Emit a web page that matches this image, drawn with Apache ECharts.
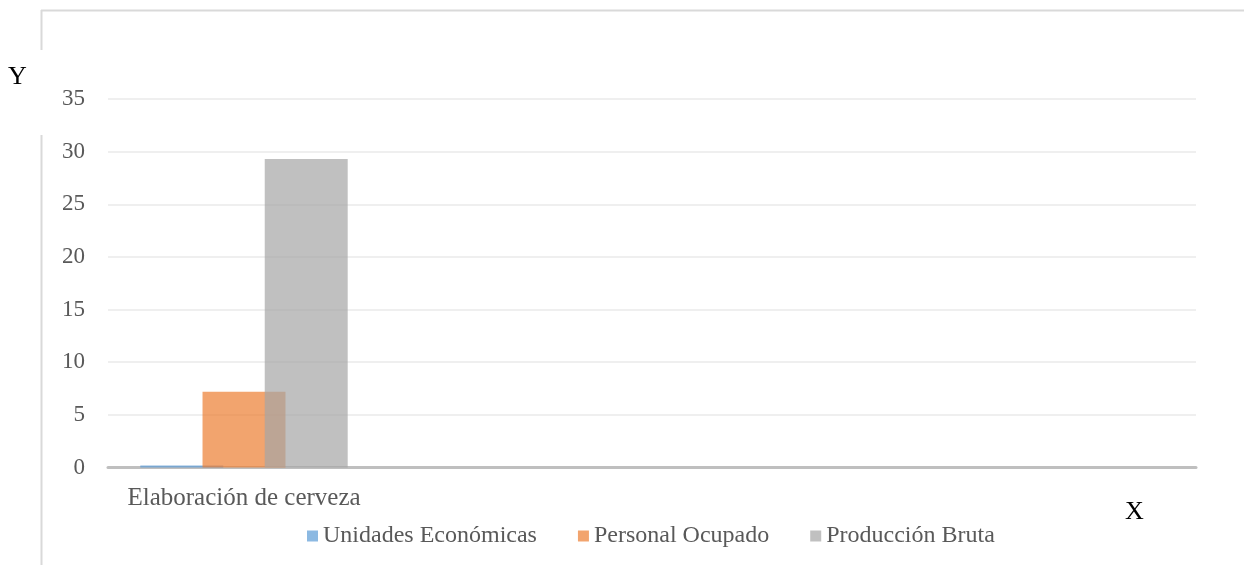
<!DOCTYPE html>
<html>
<head>
<meta charset="utf-8">
<script src="https://cdn.jsdelivr.net/npm/echarts@6/dist/echarts.min.js"></script>
<style>
html,body{margin:0;padding:0;background:#fff;}
#chart{width:1244px;height:565px;}
</style>
</head>
<body>
<div id="chart"></div>
<script>
const categories = ['Elaboración de cerveza', '', '', ''];
const seriesNames = ['Unidades Económicas', 'Personal Ocupado', 'Producción Bruta'];
const unidadesEconomicas = [0.2, null, null, null];
const personalOcupado = [7.2, null, null, null];
const produccionBruta = [29.3, null, null, null];
const yTicks = { min: 0, max: 35, interval: 5 };

const FONT = '"Liberation Serif", "Times New Roman", serif';
const colors = ['#5B9BD5', '#ED7D31', '#A5A5A5'];

const chart = echarts.init(document.getElementById('chart'), null, { renderer: 'canvas' });
const dataSets = [unidadesEconomicas, personalOcupado, produccionBruta];

chart.setOption({
  animation: false,
  backgroundColor: '#ffffff',
  textStyle: { fontFamily: FONT },
  grid: { left: 108, right: 48, top: 99, bottom: 97.5, containLabel: false },
  legend: {
    left: 302, top: 519,
    itemWidth: 11, itemHeight: 11, itemGap: 41,
    icon: 'rect',
    textStyle: { fontFamily: FONT, fontSize: 24, color: '#595959', padding: [0, 0, 0, 0] },
    data: seriesNames
  },
  xAxis: {
    type: 'category',
    data: categories,
    axisLine: { lineStyle: { color: '#BFBFBF', width: 3 } },
    axisTick: { show: false },
    axisLabel: { fontFamily: FONT, fontSize: 25, color: '#595959', margin: 18, interval: 0 },
    splitLine: { show: false }
  },
  yAxis: {
    type: 'value',
    min: yTicks.min, max: yTicks.max, interval: yTicks.interval,
    axisLine: { show: false },
    axisTick: { show: false },
    axisLabel: { fontFamily: FONT, fontSize: 23, color: '#595959', margin: 23 },
    splitLine: { lineStyle: { color: '#EFEFEF', width: 2 } }
  },
  graphic: [
    { type: 'line', shape: { x1: 41, y1: 10.5, x2: 1244, y2: 10.5 }, style: { stroke: '#D9D9D9', lineWidth: 2 }, silent: true },
    { type: 'line', shape: { x1: 41.5, y1: 10, x2: 41.5, y2: 50 }, style: { stroke: '#D9D9D9', lineWidth: 2 }, silent: true },
    { type: 'line', shape: { x1: 41.5, y1: 135, x2: 41.5, y2: 565 }, style: { stroke: '#D9D9D9', lineWidth: 2 }, silent: true },
    { type: 'text', left: 8, top: 64, style: { text: 'Y', fontFamily: FONT, fontSize: 26, fill: '#000000' } },
    { type: 'text', left: 1125, top: 499, style: { text: 'X', fontFamily: FONT, fontSize: 26, fill: '#000000' } }
  ],
  series: seriesNames.map((name, i) => ({
    name: name,
    type: 'bar',
    data: dataSets[i],
    barWidth: '30.5%',
    barGap: '-25%',
    itemStyle: { color: colors[i], opacity: 0.7 }
  }))
});
</script>
</body>
</html>
